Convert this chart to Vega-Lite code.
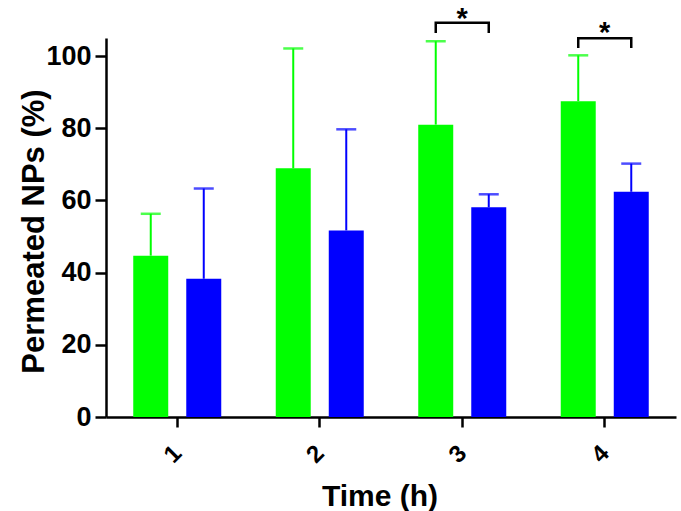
{
  "$schema": "https://vega.github.io/schema/vega-lite/v6.json",
  "autosize": "none",
  "width": 570,
  "height": 379,
  "padding": {"left": 106, "top": 38, "right": 5, "bottom": 94},
  "config": {
    "view": {"stroke": null},
    "font": "Liberation Sans"
  },
  "datasets": {
    "bars": [
      {"time": "1", "series": "S1", "mean": 44.7, "upper": 56.3},
      {"time": "1", "series": "S2", "mean": 38.3, "upper": 63.3},
      {"time": "2", "series": "S1", "mean": 68.9, "upper": 102.1},
      {"time": "2", "series": "S2", "mean": 51.7, "upper": 79.7},
      {"time": "3", "series": "S1", "mean": 81.0, "upper": 104.1},
      {"time": "3", "series": "S2", "mean": 58.1, "upper": 61.7},
      {"time": "4", "series": "S1", "mean": 87.5, "upper": 100.2},
      {"time": "4", "series": "S2", "mean": 62.4, "upper": 70.2}
    ],
    "brackets": [
      {"time": "3", "series": "S1", "y": 106.4, "ord": 1},
      {"time": "3", "series": "S1", "y": 109.2, "ord": 2},
      {"time": "3", "series": "S2", "y": 109.2, "ord": 3},
      {"time": "3", "series": "S2", "y": 106.4, "ord": 4},
      {"time": "4", "series": "S1", "y": 102.2, "ord": 1},
      {"time": "4", "series": "S1", "y": 104.9, "ord": 2},
      {"time": "4", "series": "S2", "y": 104.9, "ord": 3},
      {"time": "4", "series": "S2", "y": 102.2, "ord": 4}
    ],
    "stars": [
      {"time": "3", "y": 107.8, "label": "*"},
      {"time": "4", "y": 104.0, "label": "*"}
    ]
  },
  "encoding": {
    "x": {
      "field": "time", "type": "nominal",
      "scale": {"domain": ["1", "2", "3", "4"], "paddingInner": 0, "paddingOuter": 0},
      "axis": {
        "title": "Time (h)",
        "titleFont": "Liberation Sans", "titleFontSize": 30, "titleFontWeight": "bold", "titleColor": "black",
        "titleX": 273.5, "titleY": 88, "titleBaseline": "alphabetic", "titleAnchor": null,
        "labelAngle": -45, "labelAlign": "center", "labelBaseline": "middle",
        "labelFontSize": 24, "labelFontWeight": "bold", "labelColor": "black", "labelPadding": 27, "labelOffset": -4,
        "domainColor": "black", "domainWidth": 2.5, "tickColor": "black", "tickWidth": 2.5, "tickSize": 10
      }
    }
  },
  "layer": [
    {
      "data": {"name": "bars"},
      "mark": {"type": "bar"},
      "encoding": {
        "xOffset": {"field": "series", "type": "nominal", "scale": {"paddingInner": 0.34, "paddingOuter": 0.514}},
        "y": {
          "field": "mean", "type": "quantitative",
          "scale": {"domain": [0, 105], "nice": false, "zero": true},
          "axis": {
            "title": "Permeated NPs (%)",
            "titleFont": "Liberation Sans", "titleFontSize": 31, "titleFontWeight": "bold", "titleColor": "black",
            "titleAngle": -90, "titleX": -63, "titleY": 193, "titleBaseline": "alphabetic", "titleAlign": "center", "titleAnchor": null,
            "values": [0, 20, 40, 60, 80, 100], "grid": false,
            "labelFontSize": 27, "labelFontWeight": "bold", "labelColor": "black", "labelPadding": 4,
            "domainColor": "black", "domainWidth": 2.5, "tickColor": "black", "tickWidth": 2.5, "tickSize": 11
          }
        },
        "color": {"field": "series", "type": "nominal", "scale": {"domain": ["S1", "S2"], "range": ["#00ff00", "#0000ff"]}, "legend": null}
      }
    },
    {
      "data": {"name": "bars"},
      "mark": {"type": "rule", "strokeWidth": 2},
      "encoding": {
        "xOffset": {"field": "series", "type": "nominal", "scale": {"paddingInner": 0.34, "paddingOuter": 0.514}},
        "y": {"field": "mean", "type": "quantitative"},
        "y2": {"field": "upper"},
        "color": {"field": "series", "type": "nominal", "legend": null}
      }
    },
    {
      "data": {"name": "bars"},
      "mark": {"type": "tick", "thickness": 2.5, "size": 20},
      "encoding": {
        "xOffset": {"field": "series", "type": "nominal", "scale": {"paddingInner": 0.34, "paddingOuter": 0.514}},
        "y": {"field": "upper", "type": "quantitative"},
        "color": {"field": "series", "type": "nominal", "legend": null}
      }
    },
    {
      "data": {"name": "brackets"},
      "mark": {"type": "line", "color": "black", "strokeWidth": 2.5, "clip": false},
      "encoding": {
        "xOffset": {"field": "series", "type": "nominal", "scale": {"paddingInner": 0.34, "paddingOuter": 0.514}},
        "y": {"field": "y", "type": "quantitative"},
        "order": {"field": "ord", "type": "quantitative"},
        "detail": {"field": "time", "type": "nominal"}
      }
    },
    {
      "data": {"name": "stars"},
      "mark": {"type": "text", "fontSize": 29, "fontWeight": "bold", "color": "black", "baseline": "alphabetic", "align": "center"},
      "encoding": {
        "y": {"field": "y", "type": "quantitative"},
        "text": {"field": "label"}
      }
    }
  ]
}
